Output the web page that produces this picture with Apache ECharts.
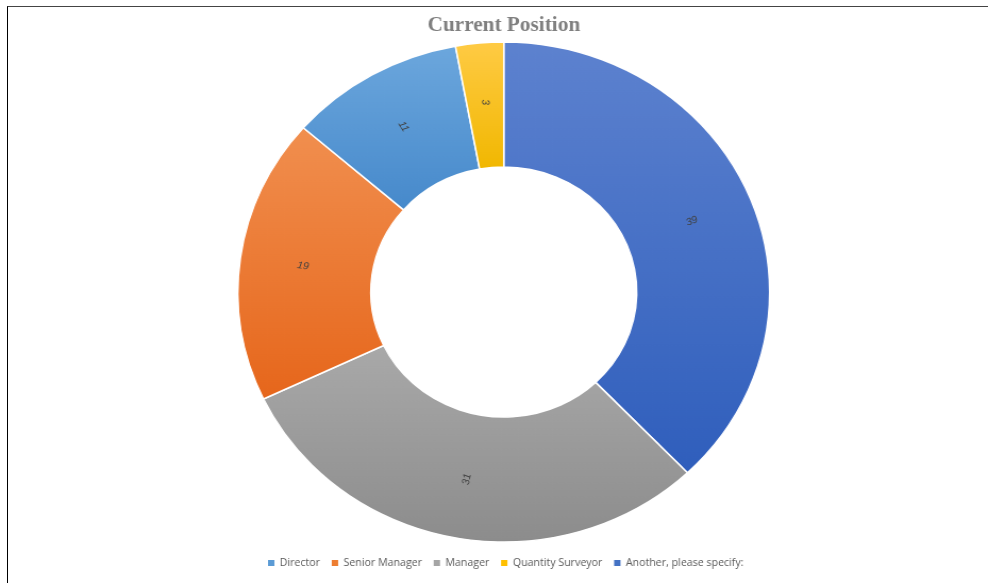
<!DOCTYPE html>
<html>
<head>
<meta charset="utf-8">
<script src="https://cdn.jsdelivr.net/npm/echarts@6/dist/echarts.min.js"></script>
<style>
  html, body { margin: 0; padding: 0; background: #fff; }
  #frame { position: absolute; left: 7px; top: 6px; width: 981px; height: 577px;
           border-top: 1px solid #444; border-left: 1.5px solid #000; box-sizing: border-box; }
  /* chart is drawn slightly narrow, then widened to the final aspect */
  #chart { position: absolute; left: 0; top: 0; width: 929px; height: 583px;
           transform: scaleX(1.0635); transform-origin: 0 0; }
</style>
</head>
<body>
<div id="chart"></div>
<div id="frame"></div>
<script>
// Survey answers, in drawing order (clockwise from 12 o'clock)
const categories = ['Another, please specify:', 'Manager', 'Senior Manager', 'Director', 'Quantity Surveyor'];
const counts = [39, 31, 19, 11, 3];
// Legend order
const legendOrder = ['Director', 'Senior Manager', 'Manager', 'Quantity Surveyor', 'Another, please specify:'];

// top/bottom gradient stops per category
const palette = {
  'Another, please specify:': ['#5d82cf', '#2f5ebc'],
  'Manager': ['#a9a9a9', '#8c8c8c'],
  'Senior Manager': ['#f18f4f', '#e6661b'],
  'Director': ['#6ca7dd', '#4689cb'],
  'Quantity Surveyor': ['#ffcb45', '#f1b700']
};
const legendColor = {
  'Another, please specify:': '#4472c4',
  'Manager': '#a5a5a5',
  'Senior Manager': '#ed7d31',
  'Director': '#5b9bd5',
  'Quantity Surveyor': '#ffc000'
};

function grad(name) {
  const c = palette[name];
  return new echarts.graphic.LinearGradient(0, 0, 0, 1, [
    { offset: 0, color: c[0] },
    { offset: 1, color: c[1] }
  ]);
}

const chart = echarts.init(document.getElementById('chart'));
chart.setOption({
  animation: false,
  title: {
    text: 'Current Position',
    left: 397,
    top: 11,
    textStyle: {
      fontFamily: 'Liberation Serif',
      fontWeight: 'bold',
      fontSize: 20,
      color: '#7f7f7f'
    }
  },
  legend: {
    data: legendOrder.map(n => ({ name: n, itemStyle: { color: legendColor[n] } })),
    left: 245,
    top: 553,
    icon: 'rect',
    itemWidth: 8,
    itemHeight: 8,
    itemGap: 9,
    textStyle: { fontFamily: 'Open Sans', fontSize: 10, color: '#595959', padding: [0, 0, 0, -1] }
  },
  series: [{
    type: 'pie',
    center: [473.7, 292],
    radius: [125, 250],
    startAngle: 90,
    clockwise: true,
    avoidLabelOverlap: false,
    itemStyle: { borderColor: '#fff', borderWidth: 1.5 },
    label: {
      show: true,
      position: 'inside',
      rotate: 'radial',
      formatter: '{c}',
      fontFamily: 'Liberation Sans',
      fontStyle: 'italic',
      fontSize: 10,
      color: '#404040'
    },
    labelLine: { show: false },
    emphasis: { disabled: true },
    data: categories.map((n, i) => ({ name: n, value: counts[i], itemStyle: { color: grad(n) } }))
  }]
});
</script>
</body>
</html>
